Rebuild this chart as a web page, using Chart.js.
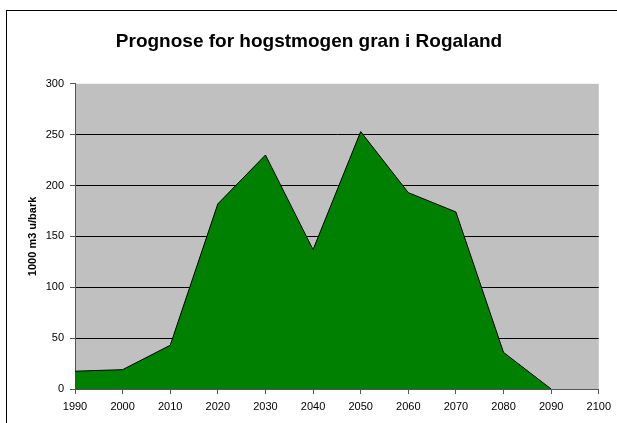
<!DOCTYPE html>
<html>
<head>
<meta charset="utf-8">
<script src="https://cdn.jsdelivr.net/npm/chart.js@4.4.1/dist/chart.umd.min.js"></script>
<style>
  html, body { margin: 0; padding: 0; background: #fff; }
  #wrap { position: relative; width: 617px; height: 423px; }
</style>
</head>
<body>
<div id="wrap"><canvas id="chart" width="617" height="423"></canvas></div>
<script>
// values
const years = [1990, 2000, 2010, 2020, 2030, 2040, 2050, 2060, 2070, 2080, 2090];
const volumes = [17.5, 19, 43, 182, 230, 137, 253, 193, 174, 36, 0];
const yTicks = [0, 50, 100, 150, 200, 250, 300];
const xTicks = [1990, 2000, 2010, 2020, 2030, 2040, 2050, 2060, 2070, 2080, 2090, 2100];

const FONT = "'Liberation Sans', Arial, sans-serif";

// gray plot area + outer frame like the Excel original
const backdrop = {
  id: 'backdrop',
  beforeDraw(chart) {
    const { ctx, chartArea: a } = chart;
    ctx.save();
    ctx.fillStyle = '#c0c0c0';
    ctx.fillRect(a.left, a.top, a.right - a.left, a.bottom - a.top);
    ctx.strokeStyle = '#000';
    ctx.lineWidth = 1;
    ctx.strokeRect(6.5, 10.5, 800, 600);
    ctx.restore();
  }
};

new Chart(document.getElementById('chart'), {
  type: 'line',
  data: {
    datasets: [{
      data: years.map((y, i) => ({ x: y, y: volumes[i] })),
      fill: 'origin',
      backgroundColor: '#008000',
      borderColor: '#000',
      borderWidth: 1,
      pointRadius: 0,
      tension: 0
    }]
  },
  options: {
    responsive: false,
    animation: false,
    layout: { padding: { left: 18, right: 17, top: 0, bottom: 0 } },
    plugins: {
      legend: { display: false },
      tooltip: { enabled: false },
      title: {
        display: true,
        text: 'Prognose for hogstmogen gran i Rogaland',
        color: '#000',
        font: { family: FONT, size: 19, weight: 'bold' },
        padding: { top: 30, bottom: 31 }
      }
    },
    scales: {
      x: {
        type: 'linear',
        min: 1990,
        max: 2100,
        afterBuildTicks: s => { s.ticks = xTicks.map(v => ({ value: v })); },
        afterFit: s => { s.height = 34; },
        border: { color: '#555', width: 1 },
        grid: { drawOnChartArea: false, tickLength: 5, color: '#555' },
        ticks: {
          color: '#000',
          font: { family: FONT, size: 11 },
          padding: 6,
          maxRotation: 0,
          autoSkip: false,
          callback: v => String(v)
        }
      },
      y: {
        min: 0,
        max: 300,
        afterBuildTicks: s => { s.ticks = yTicks.map(v => ({ value: v })); },
        afterFit: s => { s.width = 57; },
        border: { color: '#555', width: 1 },
        grid: {
          tickLength: 5,
          tickColor: '#555',
          color: c => (c.tick && (c.tick.value === 0 || c.tick.value === 300)) ? 'rgba(0,0,0,0)' : '#000'
        },
        ticks: { color: '#000', font: { family: FONT, size: 11 }, padding: 6 },
        title: {
          display: true,
          text: '1000 m3 u/bark',
          color: '#000',
          font: { family: FONT, size: 11, weight: 'bold' },
          padding: { top: 8, bottom: 0 }
        }
      }
    }
  },
  plugins: [backdrop]
});
</script>
</body>
</html>
